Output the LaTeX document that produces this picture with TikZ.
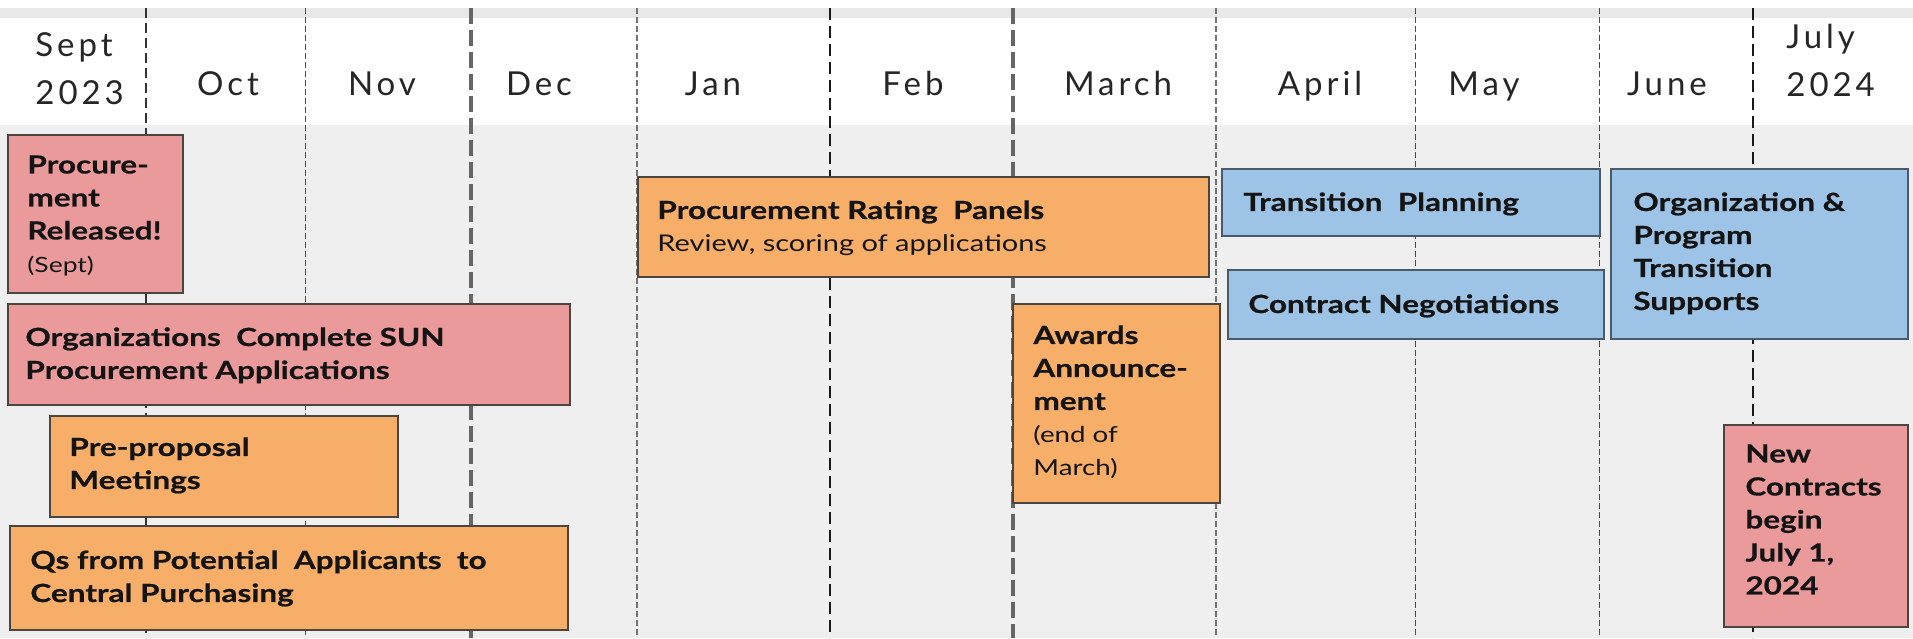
\documentclass[tikz,border=0pt]{standalone}
\usepackage{fontspec}
\setmainfont{Lato}
\newfontfamily\hdrfont[LetterSpace=12]{Lato}
\newfontfamily\boxfont[FakeStretch=1.26, BoldFeatures={FakeBold=0.6}]{Lato}
\usetikzlibrary{fit}
\definecolor{pinkc}{HTML}{EA9A9B}
\definecolor{orangec}{HTML}{F6AE68}
\definecolor{bluec}{HTML}{9DC3E6}
\definecolor{bodyc}{HTML}{EFEFEF}
\definecolor{bandc}{HTML}{E8E8E8}
\definecolor{edgec}{HTML}{4A4540}
\definecolor{bedgec}{HTML}{4A5A68}
\begin{document}
\begin{tikzpicture}[x=0.5pt,y=-0.5pt,
  boxbase/.style={draw=edgec, line width=0.9pt, inner sep=0pt},
  pinkbox/.style={boxbase, fill=pinkc},
  orangebox/.style={boxbase, fill=orangec},
  bluebox/.style={boxbase, draw=bedgec, fill=bluec},
  boxtext/.style={anchor=north west, inner sep=0pt, align=left,
    font=\boxfont\fontsize{12.5}{16.5}\selectfont\bfseries, text=black!92},
  month/.style={inner sep=0pt, font=\hdrfont\fontsize{16.5}{24}\selectfont, text=black!85},
  ldark/.style={black!80, line width=0.7pt, dash pattern=on 5pt off 2.5pt},
  ldarkb/.style={black!90, line width=1.1pt, dash pattern=on 6pt off 3pt},
  lthin/.style={black!70, line width=0.5pt, dash pattern=on 3pt off 1.5pt},
  lgray/.style={black!55, line width=0.6pt, dash pattern=on 3pt off 1.5pt},
  lthick/.style={black!60, line width=1.6pt, dash pattern=on 8pt off 3pt},
  ]
\useasboundingbox (0,0) rectangle (1913,638);
\fill[white] (0,0) rectangle (1913,638);
\fill[bandc] (0,8) rectangle (1913,18);
\fill[white] (0,18) rectangle (1913,125);
\fill[bodyc] (0,125) rectangle (1913,638);

% month separators
\draw[ldark]  (146,8) -- (146,638);
\draw[lthin]  (305,8) -- (305,638);
\draw[lthick] (471,8) -- (471,638);
\draw[lgray]  (637,8) -- (637,638);
\draw[ldarkb] (830,8) -- (830,638);
\draw[lthick] (1013,8) -- (1013,638);
\draw[lgray]  (1216,8) -- (1216,638);
\draw[lthin]  (1415,8) -- (1415,638);
\draw[lthin]  (1599,8) -- (1599,638);
\draw[ldarkb] (1753,8) -- (1753,638);

% month labels
\node[month, anchor=north west, align=left] (sep) at (35,32) {Sept\\2023};
\node[month, anchor=base] (oct) at (228,95) {Oct};
\node[month, anchor=base] (nov) at (382,95) {Nov};
\node[month, anchor=base] (dec) at (539,95) {Dec};
\node[month, anchor=base] (jan) at (713,95) {Jan};
\node[month, anchor=base] (feb) at (913,95) {Feb};
\node[month, anchor=base] (mar) at (1118,95) {March};
\node[month, anchor=base] (apr) at (1320,95) {April};
\node[month, anchor=base] (may) at (1484,95) {May};
\node[month, anchor=base] (jun) at (1667,95) {June};
\node[month, anchor=north west, align=left] (jul) at (1786,24) {July\\2024};

% boxes
\node[pinkbox, fit={(8,135) (183,293)}] (rel) {};
\node[pinkbox, fit={(8,304) (570,405)}] (org) {};
\node[orangebox, fit={(50,416) (398,517)}] (pre) {};
\node[orangebox, fit={(10,526) (568,630)}] (qs) {};
\node[orangebox, fit={(638,177) (1209,277)}] (rat) {};
\node[orangebox, fit={(1013,304) (1220,503)}] (awd) {};
\node[bluebox, fit={(1222,169) (1600,236)}] (tpl) {};
\node[bluebox, fit={(1228,270) (1604,339)}] (con) {};
\node[bluebox, fit={(1611,169) (1908,339)}] (ops) {};
\node[pinkbox, fit={(1724,425) (1908,627)}] (new) {};

% box texts
\node[boxtext] (relt) at (27,155) {Procure-\\ment\\Released!\\{\mdseries\fontsize{10.5}{16.5}\selectfont (Sept)}};
\node[boxtext] (orgt) at (25,327) {Organizations~ Complete SUN\\Procurement Applications};
\node[boxtext] (pret) at (69,437) {Pre-proposal\\Meetings};
\node[boxtext] (qst) at (30,550) {Qs from Potential~ Applicants~ to\\Central Purchasing};
\node[boxtext] (ratt) at (657,200) {Procurement Rating~ Panels\\{\mdseries\fontsize{11.5}{15}\selectfont Review, scoring of applications}};
\node[boxtext] (awdt) at (1033,325) {Awards\\Announce-\\ment\\{\mdseries\fontsize{11}{16.5}\selectfont (end of}\\{\mdseries\fontsize{11}{16.5}\selectfont March)}};
\node[boxtext] (tplt) at (1243,192) {Transition~ Planning};
\node[boxtext] (cont) at (1248,294) {Contract Negotiations};
\node[boxtext] (opst) at (1633,192) {Organization \&\\Program\\Transition\\Supports};
\node[boxtext] (newt) at (1745,444) {New\\Contracts\\begin\\July 1,\\2024};
\end{tikzpicture}
\end{document}
